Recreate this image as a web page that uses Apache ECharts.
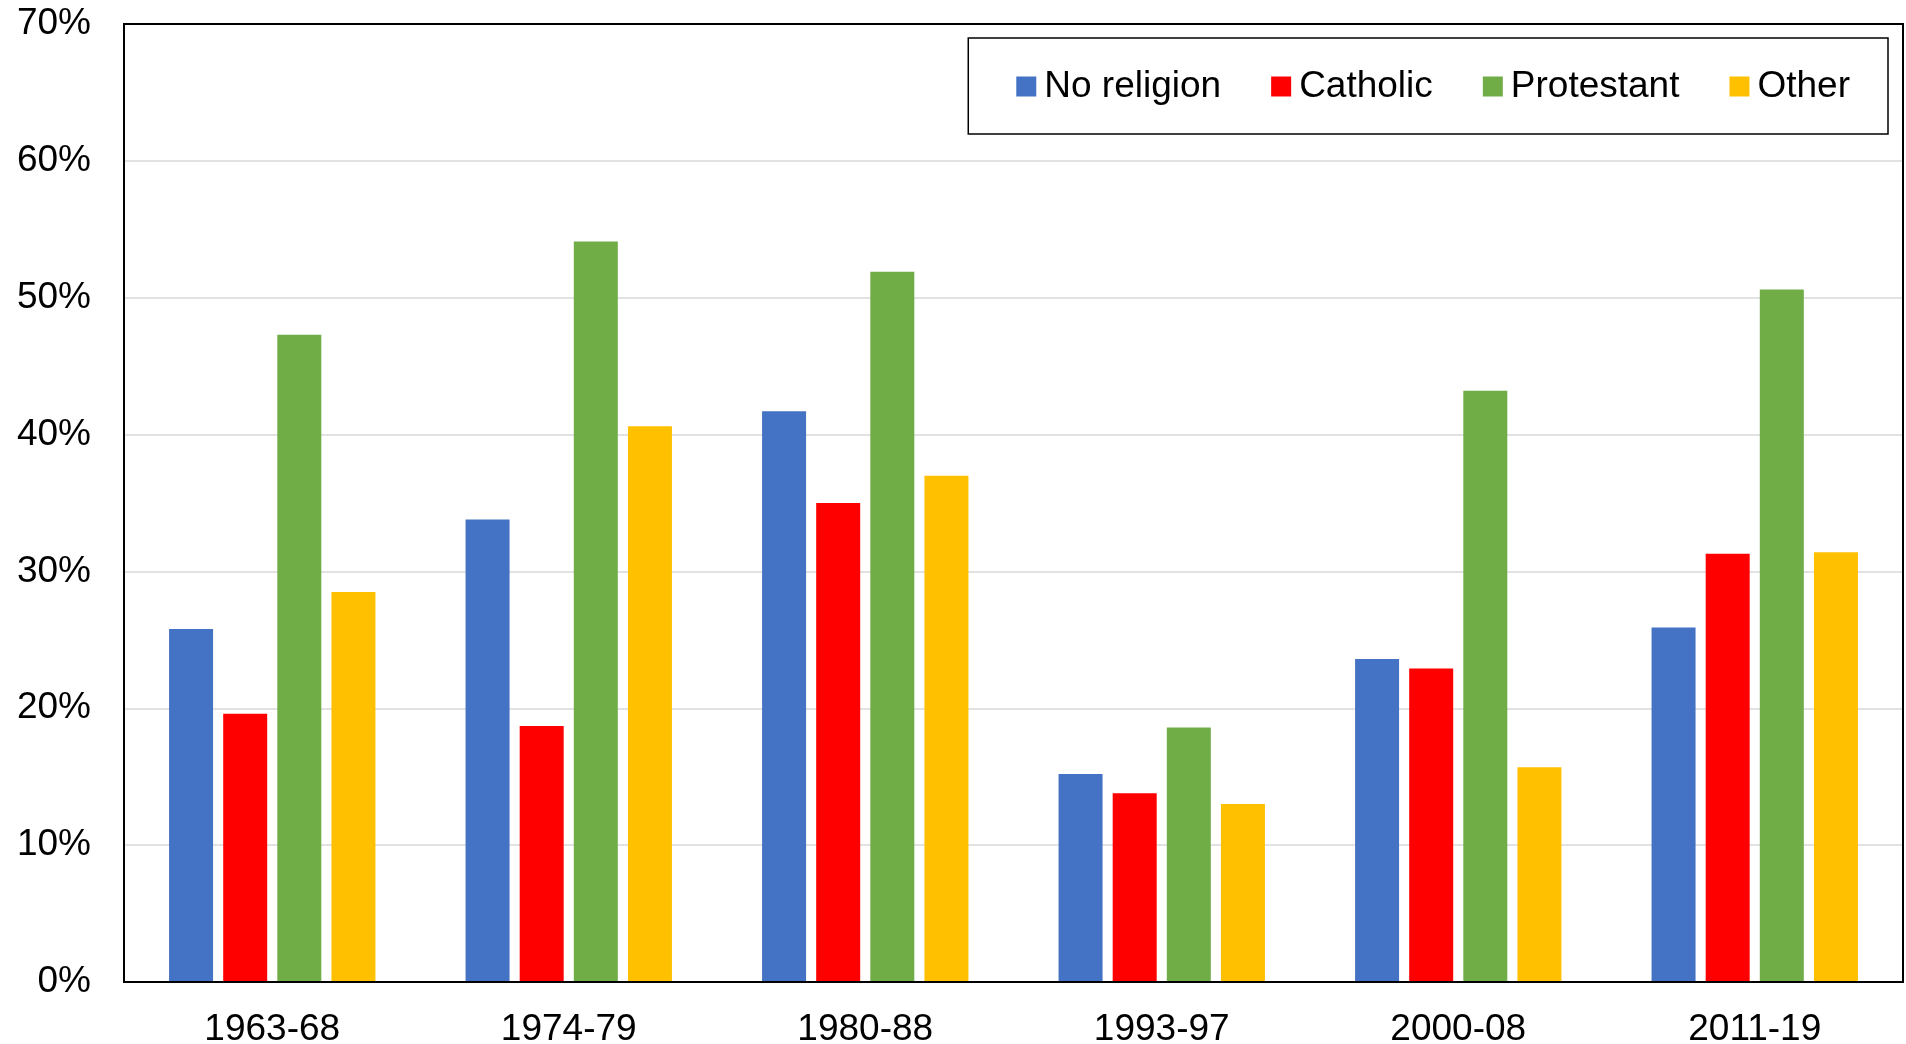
<!DOCTYPE html>
<html>
<head>
<meta charset="utf-8">
<script src="https://cdn.jsdelivr.net/npm/echarts@6/dist/echarts.min.js"></script>
<style>
html,body{margin:0;padding:0;background:#fff;}
#chart{width:1906px;height:1044px;}
</style>
</head>
<body>
<div id="chart"></div>
<script>
const categories = ['1963-68', '1974-79', '1980-88', '1993-97', '2000-08', '2011-19'];
const noReligion = [25.8, 33.8, 41.7, 15.2, 23.6, 25.9];
const catholic = [19.6, 18.7, 35.0, 13.8, 22.9, 31.3];
const protestant = [47.3, 54.1, 51.9, 18.6, 43.2, 50.6];
const other = [28.5, 40.6, 37.0, 13.0, 15.7, 31.4];
const seriesNames = ['No religion', 'Catholic', 'Protestant', 'Other'];
const seriesColors = ['#4472C4', '#FF0000', '#70AD47', '#FFC000'];
const yTicks = [0, 10, 20, 30, 40, 50, 60, 70];

const font = 'Liberation Sans, Arial, sans-serif';
const dataSets = [noReligion, catholic, protestant, other];

const chart = echarts.init(document.getElementById('chart'));
chart.setOption({
  animation: false,
  backgroundColor: '#fff',
  grid: {
    left: 124, right: 3, top: 24, bottom: 62, z: 10,
    show: true, borderColor: '#000', borderWidth: 2, backgroundColor: 'transparent',
    containLabel: false, outerBoundsMode: 'none'
  },
  legend: {
    right: 18, top: 38, z: 12,
    padding: [30, 38, 29, 48],
    itemGap: 50,
    itemWidth: 20, itemHeight: 20,
    borderColor: '#000', borderWidth: 1.5,
    icon: 'rect',
    textStyle: { fontFamily: font, fontSize: 37, color: '#000', padding: [0, 0, 0, 3] },
    data: seriesNames
  },
  xAxis: {
    type: 'category',
    data: categories,
    axisLine: { lineStyle: { color: '#000', width: 2 } },
    axisTick: { show: false },
    axisLabel: { fontFamily: font, fontSize: 37, color: '#000', margin: 29 }
  },
  yAxis: {
    type: 'value',
    min: yTicks[0], max: yTicks[yTicks.length - 1], interval: 10,
    axisLine: { show: true, lineStyle: { color: '#000', width: 2 } },
    axisTick: { show: false },
    splitLine: { lineStyle: { color: '#d9d9d9', width: 1.5 } },
    axisLabel: { fontFamily: font, fontSize: 37, color: '#000', margin: 33, formatter: v => v + '%' }
  },
  series: seriesNames.map((name, i) => ({
    name: name,
    type: 'bar',
    data: dataSets[i],
    barWidth: 44,
    barGap: '23%',
    itemStyle: { color: seriesColors[i] }
  }))
});
</script>
</body>
</html>
